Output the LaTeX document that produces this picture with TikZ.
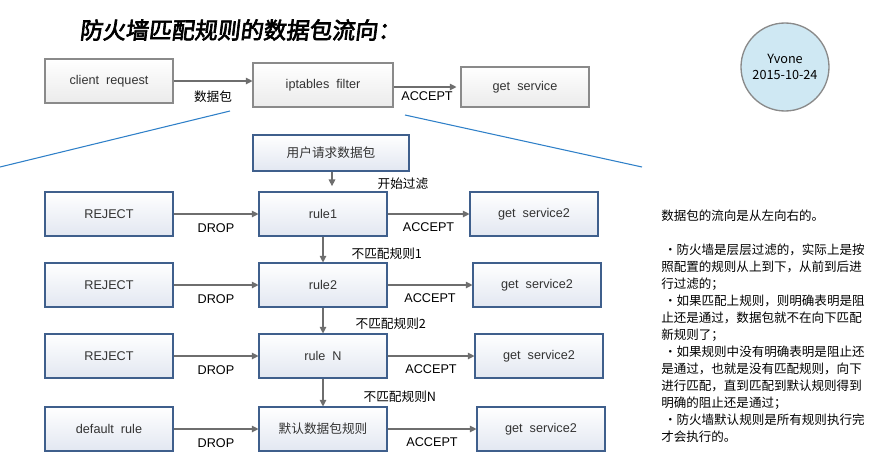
\documentclass[tikz,border=0pt]{standalone}
\usepackage{fontspec}
\setmainfont{Liberation Sans}
\newfontfamily\cjk{Noto Sans CJK SC}
\newfontfamily\cjktitle[FakeBold=3,FakeSlant=0.12]{Noto Sans CJK SC}
\usetikzlibrary{arrows.meta,shadows,positioning}

\definecolor{grayline}{HTML}{8A8A8A}
\definecolor{graybot}{HTML}{EBEBEB}
\definecolor{boxline}{HTML}{3F5F8C}
\definecolor{boxbot}{HTML}{E2E7F1}
\definecolor{arrowgray}{HTML}{6E6E6E}
\definecolor{zoomblue}{HTML}{2F80C8}
\definecolor{circfill}{HTML}{CFE8F3}

\begin{document}
\begin{tikzpicture}[
        x=0.75pt, y=-0.75pt,
        font=\fontsize{9.5}{11}\selectfont,
        >={Triangle[length=5pt,width=5pt]},
        gbox/.style={rectangle, draw=grayline, line width=0.8pt, top color=white,
            bottom color=graybot, minimum width=96pt, minimum height=33pt,
            text=black!80, drop shadow={shadow xshift=1pt, shadow yshift=-1pt, opacity=0.25}},
        bbox/.style={rectangle, draw=boxline, line width=0.8pt, top color=white,
            bottom color=boxbot, minimum width=96pt, minimum height=33pt,
            text=black!80, drop shadow={shadow xshift=1pt, shadow yshift=-1pt, opacity=0.25}},
        lab/.style={inner sep=1pt},
        cjklab/.style={inner sep=1pt, font=\cjk\fontsize{9.5}{11}\selectfont},
        flow/.style={->, draw=arrowgray, line width=0.8pt},
        zoom/.style={draw=zoomblue, line width=0.8pt}
    ]
        \useasboundingbox (0,0) rectangle (879,461);

        % title and stamp
        \node[font=\cjktitle\fontsize{17.2}{19}\selectfont] (title) at (240,30) {防火墙匹配规则的数据包流向：};
        \node[circle, draw=grayline, line width=1pt, fill=circfill, minimum size=66pt,
            align=center, font=\cjk\fontsize{9.5}{12.5}\selectfont] (stamp) at (785,67) {Yvone\\2015-10-24};

        % top row
        \node[gbox] (c1) at (109,81) {client\ \ request};
        \node[gbox, minimum width=105pt] (f1) at (323,85) {iptables\ \ filter};
        \node[gbox, minimum height=30pt] (g0) at (525,87) {get\ \ service};

        \draw[flow] (c1.east) -- node[cjklab, below=6pt] {数据包} (c1.east -| f1.west);
        \draw[flow, shorten >=3pt] (f1.east |- g0.west) -- node[lab, below=2pt] {ACCEPT} (g0.west);

        % zoom lines
        \coordinate (zl1) at (230,111);
        \coordinate (zl2) at (0,167);
        \coordinate (zr1) at (405,115);
        \coordinate (zr2) at (642,167);
        \draw[zoom] (zl1) -- (zl2);
        \draw[zoom] (zr1) -- (zr2);

        % rule chain
        \node[bbox, font=\cjk\fontsize{9.5}{11}\selectfont, minimum width=117pt, minimum height=27pt] (p0) at (331,153) {用户请求数据包};

        \node[bbox] (j1) at (109,214) {REJECT};
        \node[bbox] (r1) at (323,214) {rule1};
        \node[bbox] (s1) at (534,214) {get\ \ service2};

        \node[bbox] (j2) at (109,285) {REJECT};
        \node[bbox] (r2) at (323,285) {rule2};
        \node[bbox] (s2) at (537,285) {get\ \ service2};

        \node[bbox] (j3) at (109,356) {REJECT};
        \node[bbox] (r3) at (323,356) {rule\ \ N};
        \node[bbox] (s3) at (539,356) {get\ \ service2};

        \node[bbox] (j4) at (109,429) {default\ \ rule};
        \node[bbox, font=\cjk\fontsize{9.5}{11}\selectfont] (r4) at (323,429) {默认数据包规则};
        \node[bbox] (s4) at (541,429) {get\ \ service2};

        \draw[flow, shorten >=4pt] (p0.south -| 332,0) -- (r1.north -| 332,0);
        \node[cjklab, anchor=west] (l0) at (376,184) {开始过滤};

        \draw[flow] (j1) -- node[lab, below=6pt] {DROP} (r1);
        \draw[flow] (r1) -- node[lab, below=5pt] {ACCEPT} (s1);
        \draw[flow] (r1) -- (r2);
        \node[cjklab, anchor=west] (l1) at (350,254) {不匹配规则1};

        \draw[flow] (j2) -- node[lab, below=6pt] {DROP} (r2);
        \draw[flow] (r2) -- node[lab, below=5pt] {ACCEPT} (s2);
        \draw[flow] (r2) -- (r3);
        \node[cjklab, anchor=west] (l2) at (354,324) {不匹配规则2};

        \draw[flow] (j3) -- node[lab, below=6pt] {DROP} (r3);
        \draw[flow] (r3) -- node[lab, below=5pt] {ACCEPT} (s3);
        \draw[flow] (r3) -- (r4);
        \node[cjklab, anchor=west] (l3) at (362,397) {不匹配规则N};

        \draw[flow] (j4) -- node[lab, below=6pt] {DROP} (r4);
        \draw[flow] (r4) -- node[lab, below=5pt] {ACCEPT} (s4);

        % notes
        \node[anchor=north west, align=left, inner sep=0pt,
            font=\cjk\fontsize{9.4}{12.75}\selectfont] (note) at (661,210) {%
            数据包的流向是从左向右的。\\
            \mbox{}\\
            \ ·防火墙是层层过滤的，实际上是按\\
            照配置的规则从上到下，从前到后进\\
            行过滤的；\\
            \ ·如果匹配上规则，则明确表明是阻\\
            止还是通过，数据包就不在向下匹配\\
            新规则了；\\
            \ ·如果规则中没有明确表明是阻止还\\
            是通过，也就是没有匹配规则，向下\\
            进行匹配，直到匹配到默认规则得到\\
            明确的阻止还是通过；\\
            \ ·防火墙默认规则是所有规则执行完\\
            才会执行的。};
    \end{tikzpicture}
\end{document}
